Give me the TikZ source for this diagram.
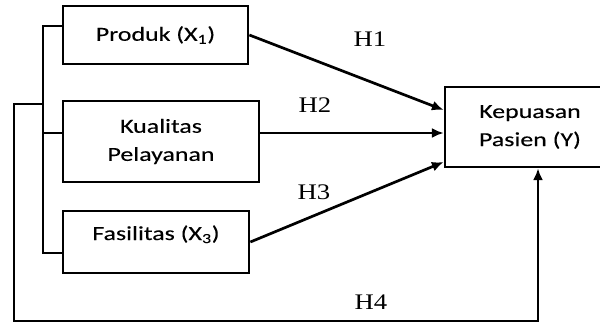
\documentclass[tikz,border=0pt]{standalone}
\usepackage{fontspec}
\setmainfont{Carlito}[FakeStretch=1.3, FakeBold=0.2]
\newfontfamily\hfont{Liberation Serif}[FakeStretch=1.2]
\usetikzlibrary{arrows.meta, calc}

\begin{document}
\begin{tikzpicture}[x=0.03cm, y=0.03cm,
    varbox/.style={draw, line width=2.3pt, align=center, inner sep=0pt,
      font=\fontsize{17}{24}\selectfont},
    link/.style={line width=2.3pt},
    arr/.style={line width=2.3pt, -{Latex[length=10pt,width=8.5pt]}},
    hyp/.style={font=\hfont\fontsize{19}{22}\selectfont}]
  \useasboundingbox (0,0) rectangle (600,324);
  % variabel
  \node[varbox, minimum width=5.55cm, minimum height=1.74cm] (produk) at (155.5,289) {Produk (X\textsubscript{1})};
  \node[varbox, minimum width=5.88cm, minimum height=2.43cm] (kualitas) at (161,182.5) {Kualitas\\Pelayanan};
  \node[varbox, minimum width=5.58cm, minimum height=1.86cm, text height=0.45cm, text depth=0.57cm] (fasilitas) at (156,82) {Fasilitas (X\textsubscript{3})};
  \node[varbox, minimum width=5.1cm, minimum height=2.4cm] (kepuasan) at (530,197) {Kepuasan\\Pasien (Y)};
  % titik bantu
  \coordinate (in1) at ($(kepuasan.west)+(0,17)$);
  \coordinate (in2) at ($(kepuasan.west)+(0,-6)$);
  \coordinate (in3) at ($(kepuasan.west)+(0,-35)$);
  \coordinate (b1) at (43,298);
  \coordinate (b3) at (43,71);
  \coordinate (b4) at (43,220);
  \coordinate (c1) at (14,220);
  \coordinate (c2) at (14,3);
  \coordinate (c3) at (538,3);
  % kurung kiri
  \draw[link] (produk.west |- b1) -- (b1) -- (b3) -- (fasilitas.west |- b3);
  \draw[link] (b1 |- in2) -- (kualitas.west |- in2);
  % panah
  \draw[arr] (produk.east) -- (in1);
  \draw[arr] (kualitas.east |- in2) -- (in2);
  \draw[arr] (fasilitas.east) -- (in3);
  \draw[arr] (b4) -- (c1) -- (c2) -- (c3) -- (c3 |- kepuasan.south);
  % label
  \node[hyp] (h1) at (370,285) {H1};
  \node[hyp] (h2) at (315,219) {H2};
  \node[hyp] (h3) at (314,132) {H3};
  \node[hyp] (h4) at (371,22) {H4};
\end{tikzpicture}
\end{document}
